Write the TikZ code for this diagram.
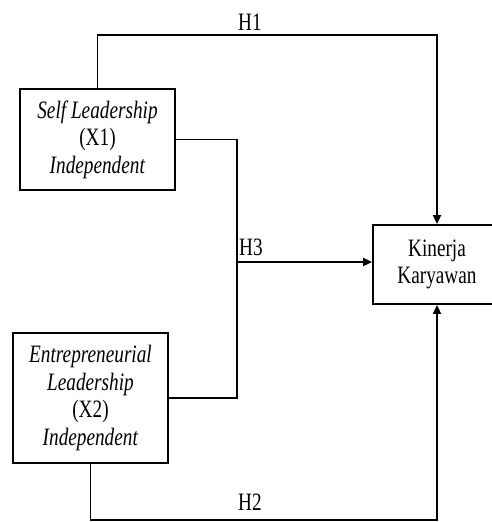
\documentclass[tikz,border=0pt]{standalone}
\usepackage{fontspec}
\setmainfont{Liberation Serif}[FakeStretch=0.77]
\usetikzlibrary{arrows.meta}
\begin{document}
\begin{tikzpicture}[x=1pt,y=-1pt,
  box/.style={draw,line width=1.8pt,rectangle,align=center,inner sep=0pt,
    font=\fontsize{25}{27.5}\selectfont},
  conn/.style={line width=1.8pt},
  arr/.style={conn,-{Triangle[length=9pt,width=8pt]}},
  lab/.style={font=\fontsize{25}{27.5}\selectfont,inner sep=0pt}]
\useasboundingbox (0,0) rectangle (491,522);
\node[box,minimum width=155pt,minimum height=101pt] (b1) at (97.5,139.5)
  {\textit{Self Leadership}\\(X1)\\\textit{Independent}};
\node[box,minimum width=155pt,minimum height=130pt] (b2) at (90.5,398)
  {\textit{Entrepreneurial}\\\textit{Leadership}\\(X2)\\\textit{Independent}};
\node[box,minimum width=128pt,minimum height=79pt] (b3) at (437,264.5)
  {Kinerja\\Karyawan};
\coordinate (h1) at (250,35);
\coordinate (m) at (237,262);
\coordinate (h2) at (250,520);
\draw[arr] (b1.north) |- (h1) -| (b3.north);
\draw[conn] (b1.east) -| (m) |- (b2.east);
\draw[arr] (m) -- (m -| b3.west);
\draw[arr] (b2.south) |- (h2) -| (b3.south);
\node[lab] (l1) at (250,22) {H1};
\node[lab] (l3) at (251,247) {H3};
\node[lab] (l2) at (250,502) {H2};
\end{tikzpicture}
\end{document}
